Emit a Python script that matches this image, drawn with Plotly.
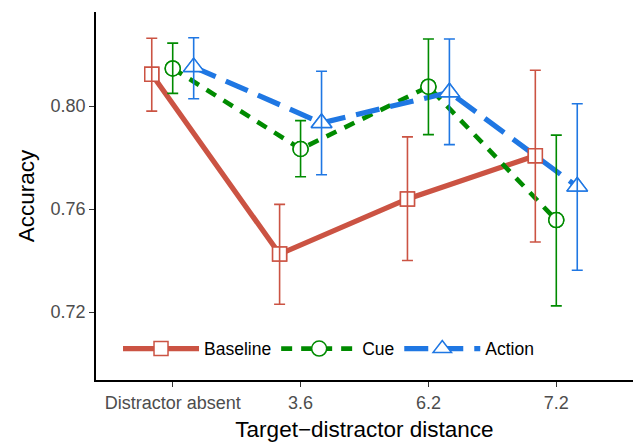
import plotly.graph_objects as go

# Accuracy by target-distractor distance, three conditions (mean with error bars)
categories = ["Distractor absent", "3.6", "6.2", "7.2"]

baseline = [0.8123, 0.7425, 0.7639, 0.7807]
baseline_lo = [0.7980, 0.7230, 0.7400, 0.7472]
baseline_hi = [0.8263, 0.7618, 0.7880, 0.8139]

cue = [0.8146, 0.7833, 0.8075, 0.7557]
cue_lo = [0.8049, 0.7725, 0.7889, 0.7224]
cue_hi = [0.8244, 0.7943, 0.8260, 0.7887]

action = [0.8151, 0.7934, 0.8053, 0.7687]
action_lo = [0.8028, 0.7733, 0.7850, 0.7362]
action_hi = [0.8265, 0.8135, 0.8260, 0.8009]

y_ticks = [0.72, 0.76, 0.80]

FONT = "Liberation Sans, Arial, Helvetica, sans-serif"

series = [
    dict(name="Baseline", y=baseline, lo=baseline_lo, hi=baseline_hi,
         color="#CB5343", dash="solid", width=5.2, symbol="square", size=14, dodge=-0.164),
    dict(name="Cue", y=cue, lo=cue_lo, hi=cue_hi,
         color="#008B00", dash="11px,9px", width=4.6, symbol="circle", size=15, dodge=0.0),
    dict(name="Action", y=action, lo=action_lo, hi=action_hi,
         color="#1F77E3", dash="24px,11px", width=5.2, symbol="triangle-up", size=18, dodge=0.164),
]

fig = go.Figure()

def xpos(s):
    return [i + 1 + s["dodge"] for i in range(len(categories))]

# connecting lines (with legend entries)
for s in series:
    fig.add_trace(go.Scatter(
        x=xpos(s), y=s["y"], name=s["name"], mode="lines+markers",
        line=dict(color=s["color"], width=s["width"], dash=s["dash"]),
        marker=dict(symbol=s["symbol"], size=s["size"], color="white",
                    line=dict(color=s["color"], width=1.5)),
        showlegend=True, hoverinfo="skip",
    ))

# hollow markers drawn over all lines
for s in series:
    fig.add_trace(go.Scatter(
        x=xpos(s), y=s["y"], mode="markers", showlegend=False,
        marker=dict(symbol=s["symbol"], size=s["size"], color="white",
                    line=dict(color=s["color"], width=1.5)),
    ))

# error bars on top
for s in series:
    up = [h - m for h, m in zip(s["hi"], s["y"])]
    dn = [m - l for m, l in zip(s["y"], s["lo"])]
    fig.add_trace(go.Scatter(
        x=xpos(s), y=s["y"], mode="markers", showlegend=False,
        marker=dict(size=1, color="rgba(0,0,0,0)"),
        error_y=dict(type="data", symmetric=False, array=up, arrayminus=dn,
                     color=s["color"], thickness=1.6, width=5.5),
    ))

fig.update_layout(
    width=633, height=442,
    margin=dict(l=96, r=0, t=12, b=62),
    paper_bgcolor="white", plot_bgcolor="white",
    font=dict(family=FONT, color="black"),
    legend=dict(
        orientation="h", x=0.041, y=0.085, xanchor="left", yanchor="middle",
        font=dict(size=17.5, color="black", family=FONT),
        bgcolor="rgba(0,0,0,0)", itemwidth=76, tracegroupgap=0,
    ),
    xaxis=dict(
        range=[0.4, 4.6], tickmode="array", automargin=False,
        tickvals=list(range(1, len(categories) + 1)), ticktext=categories,
        showgrid=False, zeroline=False, showline=True, linecolor="black", linewidth=1.8,
        ticks="outside", ticklen=5, tickwidth=1.2, tickcolor="#333333",
        tickfont=dict(size=18, color="#4D4D4D"),
        title=dict(text="Target\u2212distractor distance", font=dict(size=22.5, color="black"), standoff=17),
    ),
    yaxis=dict(
        range=[0.6936, 0.8365], tickmode="array", tickvals=y_ticks, automargin=False,
        tickformat=".2f",
        showgrid=False, zeroline=False, showline=True, linecolor="black", linewidth=1.8,
        ticks="outside", ticklen=5, tickwidth=1.2, tickcolor="#333333",
        tickfont=dict(size=18, color="#4D4D4D"),
        title=dict(text="Accuracy", font=dict(size=22.5, color="black"), standoff=10),
    ),
)

fig.write_html("out.html")
